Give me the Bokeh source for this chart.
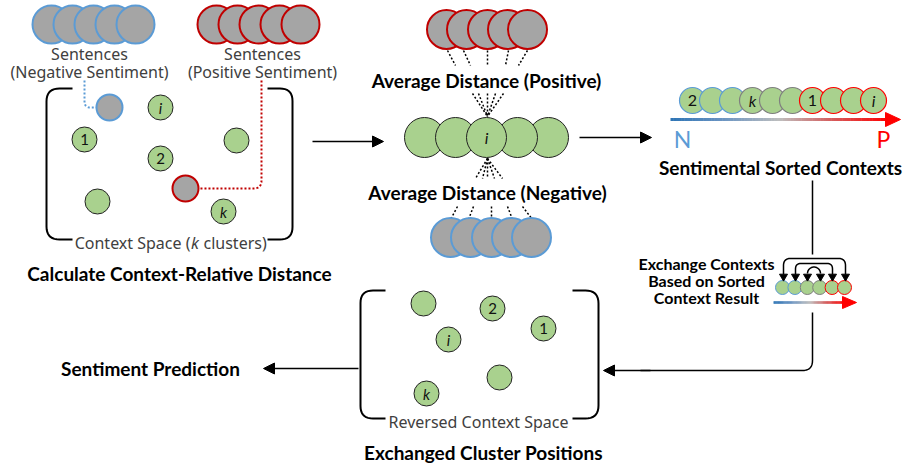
import numpy as np
from bokeh.plotting import figure
from bokeh.models import Range1d, ColumnDataSource, Arrow, NormalHead
from bokeh.embed import file_html
from bokeh.resources import INLINE
from bokeh.core.properties import value

# ---------------- data / layout tables ----------------
GREEN = "#A9D18E"
GRAY = "#A5A5A5"
BLUE = "#5B9BD5"
DRED = "#C00000"
RED = "#FF0000"
MGRAY = "#7F7F7F"

# sentence groups (top-left)
neg_sent_x = [51, 72, 93, 114, 135]
pos_sent_x = [216, 237, 258, 279, 300]
sent_y = 24
sent_r = 19

# context space circles (left box)
ctx_x = [160, 84, 236, 160, 97, 223]
ctx_y = [107, 139, 140, 158, 201, 211]
ctx_lab = ["i", "1", "", "2", "", "k"]
neg_pt = (109, 107)
pos_pt = (185, 188)

# middle column
mid_pos_x = [446, 466, 487, 507, 527]
mid_pos_y = 29
mid_green_x = [424, 548, 455, 517, 486]
mid_green_y = 137
mid_neg_x = [450, 470, 491, 511, 531]
mid_neg_y = 237

# sorted contexts (right)
sorted_x = [692, 712, 732, 752, 772, 792, 812, 833, 853, 873]
sorted_edge = ["b", "b", "b", "g", "g", "g", "r", "r", "r", "r"]
sorted_lab = ["2", "", "", "k", "", "", "1", "", "", "i"]
sorted_y = 100

# small exchange diagram
ex_x = [782, 794.4, 806.8, 819.2, 831.6, 844]
ex_edge = ["b", "b", "g", "g", "r", "r"]
ex_y = 287

# reversed context space (bottom box)
rev_x = [423, 492, 543, 448, 499, 426]
rev_y = [303, 308, 328, 339, 377, 393]
rev_lab = ["", "2", "1", "i", "", "k"]

EDGE = {"b": BLUE, "g": MGRAY, "r": RED}

W, H = 909, 466
p = figure(width=W, height=H, x_range=Range1d(0, W), y_range=Range1d(H, 0),
           output_backend="svg", toolbar_location=None, min_border=0,
           x_axis_location=None, y_axis_location=None)
p.grid.visible = False
p.outline_line_color = None
p.background_fill_color = "white"
p.border_fill_color = "white"

BOLD = value("Lato")
LIGHT = value("Noto Sans")
HEAD = "19px"
LT = "16px"
LCOL = "#404040"


def rounded(points, r, n=10):
    xs, ys = [points[0][0]], [points[0][1]]
    for i in range(1, len(points) - 1):
        (x0, y0), (x1, y1), (x2, y2) = points[i - 1], points[i], points[i + 1]
        d1 = np.hypot(x1 - x0, y1 - y0)
        d2 = np.hypot(x2 - x1, y2 - y1)
        rr = min(r, d1 / 2, d2 / 2)
        ax, ay = x1 + (x0 - x1) * rr / d1, y1 + (y0 - y1) * rr / d1
        bx, by = x1 + (x2 - x1) * rr / d2, y1 + (y2 - y1) * rr / d2
        t = np.linspace(0, 1, n)
        xs += list((1 - t) ** 2 * ax + 2 * (1 - t) * t * x1 + t ** 2 * bx)
        ys += list((1 - t) ** 2 * ay + 2 * (1 - t) * t * y1 + t ** 2 * by)
    xs.append(points[-1][0])
    ys.append(points[-1][1])
    return xs, ys


def path(points, r, **kw):
    xs, ys = rounded(points, r)
    p.line(xs, ys, **kw)


def arrow(x0, y0, x1, y1, size=11, lw=1.5):
    p.add_layout(Arrow(end=NormalHead(size=size, fill_color="black", line_color="black", line_width=1),
                       x_start=x0, y_start=y0, x_end=x1, y_end=y1,
                       line_color="black", line_width=lw))


def grad_line(x0, x1, y, lw, head):
    n = 80
    xs = np.linspace(x0, x1, n + 1)
    stops = [(0.0, (46, 117, 182)), (0.25, (110, 150, 195)), (0.5, (190, 190, 190)),
             (0.75, (215, 90, 90)), (1.0, (255, 0, 0))]
    cols = []
    for i in range(n):
        t = (i + 0.5) / n
        for j in range(len(stops) - 1):
            if stops[j][0] <= t <= stops[j + 1][0]:
                a, ca = stops[j]
                b, cb = stops[j + 1]
                f = (t - a) / (b - a)
                c = [int(ca[k] + (cb[k] - ca[k]) * f) for k in range(3)]
                cols.append("#%02x%02x%02x" % tuple(c))
                break
    p.segment(xs[:-1], [y] * n, xs[1:] + 0.5, [y] * n, line_color=cols, line_width=lw)
    hx0, hx1, hh = head
    p.patch([hx0, hx1, hx0], [y - hh, y, y + hh], fill_color=RED, line_color=RED)


def circles(xs, ys, r, fill, edge, lw):
    p.circle(xs, ys, radius=r, fill_color=fill, line_color=edge, line_width=lw)


def labels(xs, ys, labs, size="15px"):
    styles = ["italic" if l in ("i", "k") else "normal" for l in labs]
    src = ColumnDataSource(dict(x=xs, y=ys, t=labs, s=styles))
    p.text("x", "y", text="t", source=src, text_align="center", text_baseline="middle",
           text_font=value("Lato"), text_font_size=size, text_font_style="s", text_color="#111111")


def txt(x, y, s, size=HEAD, font=BOLD, style="bold", color="black", align="center"):
    p.text([x], [y], text=[s], text_align=align, text_baseline="middle",
           text_font=font, text_font_size=size, text_font_style=style, text_color=color)


# ---------------- left: context space ----------------
circles(neg_sent_x, [sent_y] * 5, sent_r, GRAY, BLUE, 2)
circles(pos_sent_x, [sent_y] * 5, sent_r, GRAY, DRED, 2)
txt(89, 53, "Sentences", LT, LIGHT, "normal", LCOL)
txt(89, 71, "(Negative Sentiment)", LT, LIGHT, "normal", LCOL)
txt(262, 53, "Sentences", LT, LIGHT, "normal", LCOL)
txt(262, 71, "(Positive Sentiment)", LT, LIGHT, "normal", LCOL)

path([(72, 88), (46, 88), (46, 239), (72, 239)], 15, line_color="black", line_width=2)
path([(267, 88), (292, 88), (292, 239), (267, 239)], 15, line_color="black", line_width=2)

path([(84, 80), (84, 107), (97, 107)], 6, line_color=BLUE, line_width=2, line_dash="2 2")
path([(261, 80), (261, 188), (198, 188)], 8, line_color=DRED, line_width=2, line_dash="2 2")

circles(ctx_x, ctx_y, 12.5, GREEN, "#222222", 1)
labels(ctx_x, ctx_y, ctx_lab)
circles([neg_pt[0]], [neg_pt[1]], 13, GRAY, BLUE, 2)
circles([pos_pt[0]], [pos_pt[1]], 13, GRAY, DRED, 2)

txt(190, 242, "Context Space (", LT, LIGHT, "normal", LCOL, "right")
txt(194.5, 242, "k", LT, LIGHT, "italic", LCOL, "center")
txt(203, 242, "clusters)", LT, LIGHT, "normal", LCOL, "left")
txt(179, 273, "Calculate Context-Relative Distance")

arrow(312, 141, 383, 141)

# ---------------- middle: average distances ----------------
circles(mid_pos_x, [mid_pos_y] * 5, 19.5, GRAY, DRED, 2)
p.segment([447, 463, 487, 508, 527], [50] * 5, [455, 470, 487, 505, 518], [65] * 5,
          line_color="black", line_width=1.5, line_dash="2 2")
txt(486, 80, "Average Distance (Positive)")
p.segment([472, 478, 487, 495, 503], [93] * 5, [487] * 5, [116] * 5,
          line_color="black", line_width=1.5, line_dash="2 2")

circles(mid_green_x, [mid_green_y] * 5, 20, GREEN, "#222222", 1)
labels([486], [137], ["i"], "16px")

p.segment([487] * 5, [158] * 5, [475, 482, 487, 494, 502], [178] * 5,
          line_color="black", line_width=1.5, line_dash="2 2")
txt(487, 192, "Average Distance (Negative)")
p.segment([457, 473, 491, 507, 522], [206] * 5, [450, 468, 491, 512, 532], [219] * 5,
          line_color="black", line_width=1.5, line_dash="2 2")
circles(mid_neg_x, [mid_neg_y] * 5, 19.5, GRAY, BLUE, 2)

arrow(579, 137, 651, 137)

# ---------------- right: sorted contexts ----------------
circles(sorted_x, [sorted_y] * 10, 13, GREEN, [EDGE[e] for e in sorted_edge], 1.2)
labels(sorted_x, [sorted_y] * 10, sorted_lab, "16px")
grad_line(670, 888, 119, 3, (885, 900, 7))
txt(682, 138, "N", "23px", value("Lato"), "normal", BLUE)
txt(883, 138, "P", "23px", value("Lato"), "normal", RED)
txt(780, 167, "Sentimental Sorted Contexts")

p.line([812, 812], [180, 254], line_color="black", line_width=1.5)

circles(ex_x, [ex_y] * 6, 7, GREEN, [EDGE[e] for e in ex_edge], 1)
path([(783, 274), (783, 258), (845, 258), (845, 274)], 7, line_color="black", line_width=1.5)
path([(795, 274), (795, 263), (832, 263), (832, 274)], 6, line_color="black", line_width=1.5)
th = np.linspace(np.pi, 2 * np.pi, 20)
p.line(813.5 + 6.5 * np.cos(th), 273 + 6.5 * np.sin(th), line_color="black", line_width=1.5)
p.scatter([783, 795, 807, 820, 832, 845], [276] * 6, marker="inverted_triangle", size=8,
          fill_color="black", line_color="black")
grad_line(773, 845, 302, 2.5, (842, 856, 6))

txt(706, 263, "Exchange Contexts", "16px")
txt(706, 280, "Based on Sorted", "16px")
txt(706, 297, "Context Result", "16px")

path([(812, 312), (812, 370), (640, 370)], 10, line_color="black", line_width=1.5)
arrow(650, 370, 603, 370)

# ---------------- bottom: reversed context space ----------------
path([(385, 290), (360, 290), (360, 418), (385, 418)], 15, line_color="black", line_width=2)
path([(572, 290), (598, 290), (598, 418), (572, 418)], 15, line_color="black", line_width=2)
circles(rev_x, rev_y, 12.5, GREEN, "#222222", 1)
labels(rev_x, rev_y, rev_lab)
txt(478, 421, "Reversed Context Space", LT, LIGHT, "normal", LCOL)
txt(483, 452, "Exchanged Cluster Positions")

arrow(358, 368, 263, 368)
txt(150, 368, "Sentiment Prediction")

open("out.html", "w").write(file_html(p, INLINE))
